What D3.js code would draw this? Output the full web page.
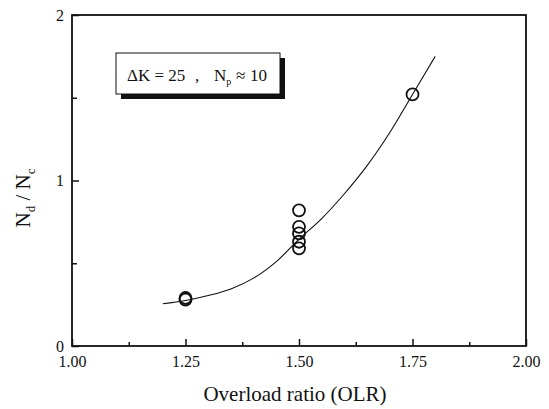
<!DOCTYPE html>
<html>
<head>
<meta charset="utf-8">
<script src="https://cdn.jsdelivr.net/npm/d3@7"></script>
<style>
  html, body { margin: 0; padding: 0; background: #fff; }
  svg { display: block; }
  text { font-family: "Liberation Serif", "Times New Roman", serif; fill: #111; }
</style>
</head>
<body>
<svg id="chart" width="549" height="409"></svg>
<script>
// Measured N_d / N_c at each overload ratio
const olrPoints = [1.25, 1.25, 1.50, 1.50, 1.50, 1.50, 1.50, 1.75];
const ratioPoints = [0.28, 0.29, 0.82, 0.72, 0.68, 0.63, 0.59, 1.52];

// Trend line through the data
const curveOlr = [1.20, 1.25, 1.30, 1.35, 1.40, 1.45, 1.50, 1.55, 1.60, 1.65, 1.70, 1.75, 1.80];
const curveRatio = [0.255, 0.275, 0.305, 0.345, 0.41, 0.51, 0.645, 0.77, 0.92, 1.09, 1.29, 1.52, 1.75];

// Axis ticks
const xMajor = [1.00, 1.25, 1.50, 1.75, 2.00];
const xMinor = [1.125, 1.375, 1.625, 1.875];
const yMajor = [0, 1, 2];
const yMinor = [0.5, 1.5];

const serif = '"Liberation Serif", "Times New Roman", serif';
const svg = d3.select("#chart").attr("font-family", serif);
const plot = { left: 72, right: 526, top: 15, bottom: 346 };

const x = d3.scaleLinear().domain([1, 2]).range([plot.left, plot.right]);
const y = d3.scaleLinear().domain([0, 2]).range([plot.bottom, plot.top]);

// Bottom axis: major ticks with labels, minor ticks without
svg.append("g")
  .attr("transform", `translate(0,${plot.bottom})`)
  .call(d3.axisBottom(x).tickValues(xMajor).tickSize(-7).tickPadding(10)
    .tickFormat(d3.format(".2f")));
svg.append("g")
  .attr("transform", `translate(0,${plot.bottom})`)
  .call(d3.axisBottom(x).tickValues(xMinor).tickSize(-4).tickFormat(""));

// Left axis
svg.append("g")
  .attr("transform", `translate(${plot.left},0)`)
  .call(d3.axisLeft(y).tickValues(yMajor).tickSize(-7).tickPadding(8)
    .tickFormat(d3.format("d")));
svg.append("g")
  .attr("transform", `translate(${plot.left},0)`)
  .call(d3.axisLeft(y).tickValues(yMinor).tickSize(-5).tickFormat(""));

svg.selectAll(".domain").remove();
svg.selectAll("g").attr("font-family", serif);
svg.selectAll(".tick line").attr("stroke", "#111").attr("stroke-width", 1.5);
svg.selectAll(".tick text")
  .style("font-family", serif)
  .style("font-size", "16px")
  .attr("fill", "#111");

// Plot frame
svg.append("rect")
  .attr("x", plot.left).attr("y", plot.top)
  .attr("width", plot.right - plot.left).attr("height", plot.bottom - plot.top)
  .attr("fill", "none").attr("stroke", "#111").attr("stroke-width", 1.8);

// Trend curve
const line = d3.line()
  .x((d, i) => x(curveOlr[i]))
  .y(d => y(d))
  .curve(d3.curveCatmullRom);
svg.append("path")
  .attr("d", line(curveRatio))
  .attr("fill", "none").attr("stroke", "#111").attr("stroke-width", 1.1);

// Data markers
svg.append("g").selectAll("circle")
  .data(ratioPoints)
  .join("circle")
  .attr("cx", (d, i) => x(olrPoints[i]))
  .attr("cy", d => y(d))
  .attr("r", 6)
  .attr("fill", "none").attr("stroke", "#111").attr("stroke-width", 1.8);

// Condition label with drop shadow
const box = { x: 116, y: 53, w: 164, h: 41 };
svg.append("rect")
  .attr("x", box.x + 5).attr("y", box.y + 5)
  .attr("width", box.w).attr("height", box.h)
  .attr("fill", "#111");
svg.append("rect")
  .attr("x", box.x).attr("y", box.y)
  .attr("width", box.w).attr("height", box.h)
  .attr("fill", "#fff").attr("stroke", "#111").attr("stroke-width", 1);
const label = svg.append("text")
  .attr("y", box.y + 28)
  .style("font-size", "17px");
label.append("tspan").attr("x", box.x + 11).text("ΔK = 25");
label.append("tspan").attr("x", box.x + 79).text(",");
label.append("tspan").attr("x", box.x + 98).text("N");
label.append("tspan").attr("font-size", "10px").attr("dy", 4).text("p");
label.append("tspan").attr("x", box.x + 120).attr("dy", -4).text("≈");
label.append("tspan").attr("x", box.x + 134).text("10");

// Axis titles
svg.append("text")
  .attr("x", 295).attr("y", 401)
  .attr("text-anchor", "middle")
  .style("font-size", "21px")
  .text("Overload ratio (OLR)");

const yt = svg.append("text")
  .attr("transform", "translate(30,198) rotate(-90)")
  .attr("text-anchor", "middle")
  .style("font-size", "21px")
  .style("white-space", "pre");
yt.append("tspan").text("N");
yt.append("tspan").attr("font-size", "13px").attr("dy", 5).text("d");
yt.append("tspan").attr("dy", -5).text(" / N");
yt.append("tspan").attr("font-size", "13px").attr("dy", 5).text("c");
</script>
</body>
</html>
